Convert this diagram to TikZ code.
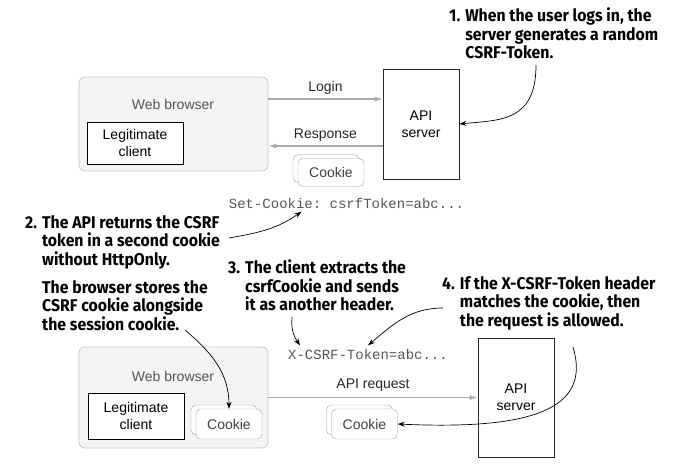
\documentclass[tikz,border=0pt]{standalone}
\usepackage{fontspec}
\setmainfont{Liberation Sans}
\setmonofont{Liberation Mono}
\newfontfamily\notefont[FakeStretch=0.93]{Fira Sans}
\usetikzlibrary{arrows.meta,shadows}
\definecolor{panelfill}{HTML}{F3F4F3}
\definecolor{panelline}{HTML}{C6C8C6}
\definecolor{flowgray}{HTML}{ABABAB}
\definecolor{textgray}{HTML}{555555}
\definecolor{cookieline}{HTML}{A4A4A4}
\tikzstyle{browser}=[draw=panelline,fill=panelfill,rounded corners=6pt,line width=0.8pt,minimum width=189pt]
\tikzstyle{client}=[draw=black,line width=0.9pt,fill=white,align=center,minimum width=96pt]
\tikzstyle{server}=[draw=black!85,line width=0.8pt,fill=white,align=center,minimum width=76pt]
\tikzstyle{cookie}=[draw=cookieline,fill=white,rounded corners=5pt,minimum width=66pt,minimum height=28pt,text=black!75,
  copy shadow={shadow xshift=-5pt,shadow yshift=4pt,draw=cookieline,fill=white}]
\tikzstyle{flow}=[draw=flowgray,line width=1.1pt,-{Latex[length=8pt,width=5pt]}]
\tikzstyle{note}=[font=\notefont\bfseries\fontsize{17}{18.5}\selectfont,align=left,anchor=north west,inner sep=0pt]
\tikzstyle{callout}=[draw,line width=0.7pt,-{Stealth[length=7pt,width=5pt]}]
\tikzstyle{code}=[font=\ttfamily\fontsize{14}{16}\selectfont,text=textgray]
\tikzstyle{label}=[text=black!85]

\begin{document}
\begin{tikzpicture}[x=1pt,y=-1pt,font=\fontsize{14}{17}\selectfont]
    \useasboundingbox (0,0) rectangle (680,471);
    % login exchange
    \node[browser,minimum height=94pt] (brow1) at (173.5,124) {};
    \node[text=textgray] (wb1) at (173,104) {Web browser};
    \node[client,minimum height=42pt] (client1) at (135,143) {Legitimate\\client};
    \node[server,minimum height=110pt] (api1) at (421,124) {API\\server};
    \node[cookie] (cook1) at (331,172.5) {Cookie};
    \node[code] (setck) at (346.5,203) {Set-Cookie: csrfToken=abc...};
    \path[flow] ([yshift=25pt]brow1.east) -- node[label,above=1pt] {Login} ([yshift=25pt]api1.west);
    \path[flow] ([yshift=-22pt]api1.west) -- node[label,above=1pt] {Response} ([yshift=-22pt]brow1.east);
    % api request
    \node[browser,minimum height=101pt] (brow2) at (173.5,397.5) {};
    \node[text=textgray] (wb2) at (173,376) {Web browser};
    \node[client,minimum height=46pt] (client2) at (136,416) {Legitimate\\client};
    \node[cookie,minimum height=30pt] (cook2) at (229,424) {Cookie};
    \node[server,minimum height=119pt] (api2) at (516,397.5) {API\\server};
    \node[cookie,minimum height=30pt] (cook3) at (364.5,424) {Cookie};
    \node[code] (xcsrf) at (368,354) {X-CSRF-Token=abc...};
    \path[flow] (brow2) -- node[label,above=2pt] {API request} (api2);
    % notes
    \node[note] (n1) at (449,8) {1. When the user logs in, the\\\hphantom{1. }server generates a random\\\hphantom{1. }CSRF-Token.};
    \node[note] (n2) at (25,215) {2. The API returns the CSRF\\\hphantom{2. }token in a second cookie\\\hphantom{2. }without HttpOnly.};
    \node[note] (n3) at (228,260) {3. The client extracts the\\\hphantom{3. }csrfCookie and sends\\\hphantom{3. }it as another header.};
    \node[note] (n4) at (442,276) {4. If the X-CSRF-Token header\\\hphantom{4. }matches the cookie, then\\\hphantom{4. }the request is allowed.};
    \node[note] (nb) at (42,280) {The browser stores the\\CSRF cookie alongside\\the session cookie.};
    \coordinate (s1) at (536,65);
    \coordinate (s2) at (229,238);
    \coordinate (s3) at (292,317);
    \coordinate (s4) at (443,308);
    \coordinate (s5) at (573,347);
    \coordinate (sb) at (185,330);
    \draw[callout] (s1) .. controls (536,122) and (500,120) .. (api1.east);
    \draw[callout] (s2) to[out=10,in=-145] ([xshift=-45pt]setck.south);
    \draw[callout] (s3) to[out=-95,in=125] ([xshift=-68pt]xcsrf.north);
    \draw[callout] (s4) to[out=180,in=40] (xcsrf.north);
    \draw[callout] (s5) .. controls (592,410) and (530,430) .. (cook3.east);
    \draw[callout] (sb) to[out=-40,in=90] (cook2.north);
\end{tikzpicture}
\end{document}
